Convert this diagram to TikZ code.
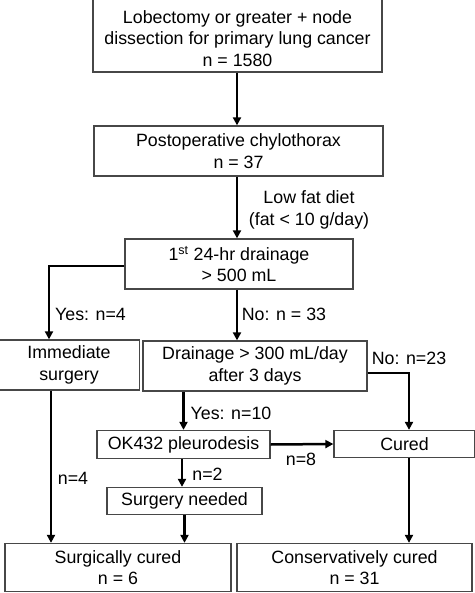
\documentclass[tikz,border=0pt]{standalone}
\usepackage{fontspec}
\setmainfont{Liberation Sans}
\usetikzlibrary{arrows.meta,calc}
\begin{document}
\begin{tikzpicture}[x=1pt,y=-1pt,
  box/.style={draw=black!72,line width=1.3pt,rectangle,inner sep=0pt,align=center,
    font=\fontsize{17.8}{21.5}\selectfont},
  arr/.style={line width=2.5pt,-{Triangle[length=8pt,width=8pt]}},
  lbl/.style={inner sep=0pt,align=center,font=\fontsize{17.8}{21.5}\selectfont}]
\useasboundingbox (0,0) rectangle (474,593);
\node[box,minimum width=289pt,minimum height=82pt] (b1) at (237.5,31) {};
\node[lbl] (t1) at (237.5,38.5) {Lobectomy or greater + node\\dissection for primary lung cancer\\n = 1580};
\node[box,minimum width=289pt,minimum height=50pt] (b2) at (238.5,151) {Postoperative chylothorax\\n = 37};
\node[box,minimum width=228pt,minimum height=50pt] (b3) at (239,264) {1\textsuperscript{st} 24-hr drainage\\> 500 mL};
\node[box,minimum width=141pt,minimum height=50pt] (imm) at (69,365) {Immediate\\surgery};
\node[box,minimum width=224pt,minimum height=50pt] (drain) at (255,366) {Drainage > 300 mL/day\\after 3 days};
\node[box,minimum width=173pt,minimum height=28pt] (ok) at (183.5,444.5) {OK432 pleurodesis};
\node[box,minimum width=141pt,minimum height=27pt] (cured) at (404.5,444) {Cured};
\node[box,minimum width=155pt,minimum height=27pt] (sn) at (184.5,501) {Surgery needed};
\node[box,minimum width=226pt,minimum height=48pt] (sc) at (118,567.5) {Surgically cured\\n = 6};
\node[box,minimum width=235pt,minimum height=48pt] (cons) at (354.5,567.5) {Conservatively cured\\n = 31};

\draw[arr] ([xshift=-0.5pt]b1.south) -- ([xshift=-0.5pt]b1.south |- b2.north);
\draw[arr] ([xshift=-1.5pt]b2.south) -- ([xshift=-1.5pt]b2.south |- b3.north);
\draw[arr] ([yshift=-2pt]b3.west) -| ([xshift=-20pt]imm.north);
\draw[arr] ([xshift=-2pt]b3.south) -- ([xshift=-2pt]b3.south |- drain.north);
\draw[arr] ([yshift=-7pt]drain.east) -| ([xshift=4.5pt]cured.north);
\draw[arr] (ok.north |- drain.south) -- (ok.north);
\draw[arr] (ok.east) -- (cured.west);
\draw[arr] ([xshift=-1.5pt]ok.south) -- ([xshift=-1.5pt]ok.south |- sn.north);
\draw[arr] (sn.south) -- (sn.south |- sc.north);
\draw[arr] ([xshift=-18pt]imm.south) -- ([xshift=-18pt]imm.south |- sc.north);
\draw[arr] ([xshift=4.5pt]cured.south) -- ([xshift=4.5pt]cured.south |- cons.north);

\node[lbl] (l1) at (309,210) {Low fat diet\\(fat < 10 g/day)};
\node[lbl] (l2) at (90.5,314) {Yes: n=4};
\node[lbl] (l3) at (284,314) {No: n = 33};
\node[lbl] (l4) at (409,358) {No: n=23};
\node[lbl] (l5) at (231,413) {Yes: n=10};
\node[lbl] (l6) at (301,459) {n=8};
\node[lbl] (l7) at (207.5,474) {n=2};
\node[lbl] (l8) at (73,478) {n=4};
\end{tikzpicture}
\end{document}
